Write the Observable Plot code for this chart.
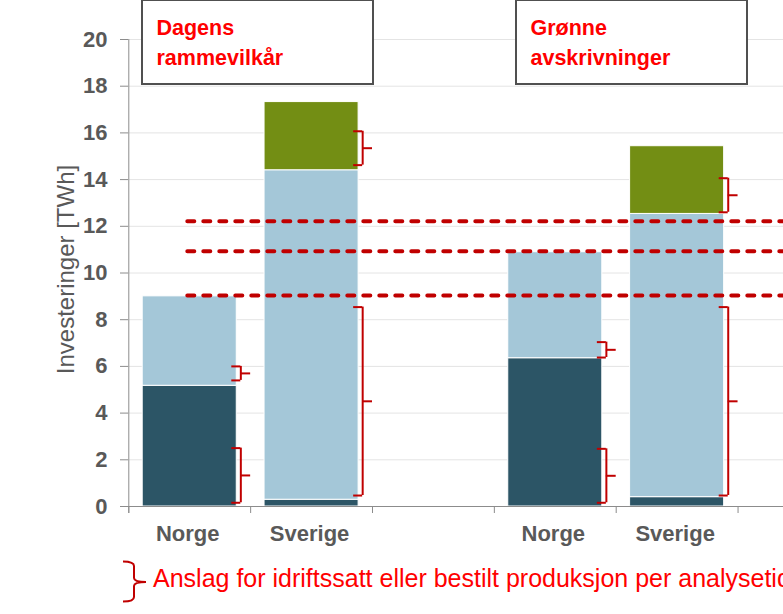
<!DOCTYPE html>
<html>
<head>
<meta charset="utf-8">
<script src="https://cdn.jsdelivr.net/npm/d3@7"></script>
<script src="https://cdn.jsdelivr.net/npm/@observablehq/plot@0.6"></script>
<style>
html, body { margin: 0; padding: 0; background: #fff; overflow: hidden; width: 783px; height: 614px; }
#wrap { position: relative; width: 783px; height: 614px; font-family: "Liberation Sans", Arial, sans-serif; }
#wrap svg.overlay { position: absolute; left: 0; top: 0; pointer-events: none; }
.box { position: absolute; top: -1px; width: 233px; height: 86px; border: 2px solid #505050; box-sizing: border-box;
  background: #fff; padding: 12px 0 0 14px; color: #ff0000; font-weight: bold; font-size: 21.5px; line-height: 30px; white-space: nowrap; }
</style>
</head>
<body>
<div id="wrap"></div>
<script>
// ---- data ----
const keys = ["N1", "S1", "G1", "N2", "S2", "G2"];
const categoryLabels = ["Norge", "Sverige", "", "Norge", "Sverige", ""];
const seriesNames = ["Eksisterende", "Planlagt", "Tillegg"];
const seriesColors = ["#2c5566", "#a4c7d8", "#738e14"];
const bottomValues = [5.17, 0.29, 0, 6.35, 0.40, 0];
const middleValues = [3.83, 14.11, 0, 4.54, 12.13, 0];
const topValues = [0, 2.92, 0, 0, 2.90, 0];
const thresholdValues = [9.04, 10.93, 12.22];
const bracketKeys = ["N1", "N1", "S1", "S1", "N2", "N2", "S2", "S2"];
const bracketLow = [0.16, 5.40, 0.47, 14.62, 0.16, 6.38, 0.47, 12.60];
const bracketHigh = [2.50, 6.00, 8.54, 16.07, 2.47, 7.04, 8.54, 14.06];
const yTicks = [0, 2, 4, 6, 8, 10, 12, 14, 16, 18, 20];
const yLabel = "Investeringer [TWh]";
const scenarioLabels = [["Dagens", "rammevilkår"], ["Grønne", "avskrivninger"]];
const legendText = "Anslag for idriftssatt eller bestilt produksjon per analysetidspunkt";

// ---- tables built from the arrays ----
const seriesValues = [bottomValues, middleValues, topValues];
const barRows = [];
seriesNames.forEach((s, si) => keys.forEach((k, ki) => {
  if (seriesValues[si][ki] > 0) barRows.push({key: k, series: s, value: seriesValues[si][ki]});
}));
const bracketRows = bracketKeys.map((k, i) => ({key: k, lo: bracketLow[i], hi: bracketHigh[i]}));
const thresholdRows = thresholdValues.map(v => ({y: v, x1: keys[0], x2: keys[keys.length - 1]}));

const band = 121.85;
const x0 = 128.3;
const red = "#c00000";
const axisGray = "#8c8c8c";
const textGray = "#595959";

const plot = Plot.plot({
  width: 783,
  height: 614,
  marginTop: 39,
  marginBottom: 108,
  marginLeft: 128,
  marginRight: 0,
  style: {fontFamily: "'Liberation Sans', Arial, sans-serif", background: "white", overflow: "visible"},
  x: {domain: keys, range: [x0, x0 + band * keys.length], padding: 0, round: false},
  y: {domain: [0, 20], range: [506, 39]},
  color: {domain: seriesNames, range: seriesColors},
  marks: [
    Plot.gridY(yTicks, {stroke: "#e4e4e4", strokeOpacity: 1}),
    Plot.barY(barRows, {x: "key", y: "value", fill: "series", order: seriesNames,
      insetLeft: 13.9, insetRight: 13.9, stroke: "white", strokeWidth: 1}),
    // y axis line and x axis line
    Plot.ruleX([keys[0]], {dx: -band / 2, y1: -0.3, y2: 20, stroke: axisGray}),
    Plot.ruleY([0], {stroke: axisGray}),
    // category boundary ticks
    Plot.ruleX(keys, {dx: -band / 2, y1: 0, y2: -0.3, stroke: axisGray}),
    Plot.axisY(yTicks, {tickSize: 8, tickFormat: () => "", color: axisGray, label: null}),
    Plot.axisY(yTicks, {tickSize: 0, tickPadding: 21, fontSize: 22, fontWeight: "bold", color: textGray, label: null}),
    Plot.axisX(keys, {tickSize: 0, tickPadding: 19, dx: -2, fontSize: 22, fontWeight: "bold", color: textGray, label: null,
      tickFormat: k => categoryLabels[keys.indexOf(k)]}),
    Plot.text([yLabel], {text: d => d, frameAnchor: "left", textAnchor: "middle", rotate: -90, dx: -62, dy: -3.5,
      fontSize: 24, fill: textGray}),
    // dashed thresholds
    Plot.ruleY(thresholdRows, {y: "y", x1: "x1", x2: "x2", insetLeft: 59, stroke: red, strokeWidth: 4,
      strokeDasharray: "7,9", strokeLinecap: "round"}),
    // brackets
    Plot.ruleX(bracketRows, {x: "key", y1: "lo", y2: "hi", dx: 51.1, stroke: red, strokeWidth: 2}),
    Plot.tickY(bracketRows, {x: "key", y: "lo", insetLeft: 103, insetRight: 9.85, stroke: red, strokeWidth: 2}),
    Plot.tickY(bracketRows, {x: "key", y: "hi", insetLeft: 103, insetRight: 9.85, stroke: red, strokeWidth: 2}),
    Plot.tickY(bracketRows, {x: "key", y: d => (d.lo + d.hi) / 2, insetLeft: 112, insetRight: 0, stroke: red, strokeWidth: 2})
  ]
});

const wrap = document.getElementById("wrap");
wrap.appendChild(plot);
plot.style.maxWidth = "none";

// scenario boxes
const boxLefts = [140.5, 514.5];
scenarioLabels.forEach((lines, i) => {
  const div = document.createElement("div");
  div.className = "box";
  div.style.left = boxLefts[i] + "px";
  lines.forEach((t, j) => {
    if (j) div.appendChild(document.createElement("br"));
    div.appendChild(document.createTextNode(t));
  });
  wrap.appendChild(div);
});

// legend (below the chart)
const ns = "http://www.w3.org/2000/svg";
const lg = document.createElementNS(ns, "svg");
lg.setAttribute("class", "overlay");
lg.setAttribute("width", 783);
lg.setAttribute("height", 614);
const path = document.createElementNS(ns, "path");
path.setAttribute("d", "M123,561.5 Q134,561.5 134,566 L134,578 Q134,582 146,582 Q134,582 134,586 L134,597 Q134,601.5 123,601.5");
path.setAttribute("fill", "none");
path.setAttribute("stroke", red);
path.setAttribute("stroke-width", 2);
lg.appendChild(path);
const txt = document.createElementNS(ns, "text");
txt.setAttribute("x", 153);
txt.setAttribute("y", 587);
txt.setAttribute("fill", "#ff0000");
txt.setAttribute("font-size", "25px");
txt.setAttribute("font-family", "'Liberation Sans', Arial, sans-serif");
txt.textContent = legendText;
lg.appendChild(txt);
wrap.appendChild(lg);
</script>
</body>
</html>
